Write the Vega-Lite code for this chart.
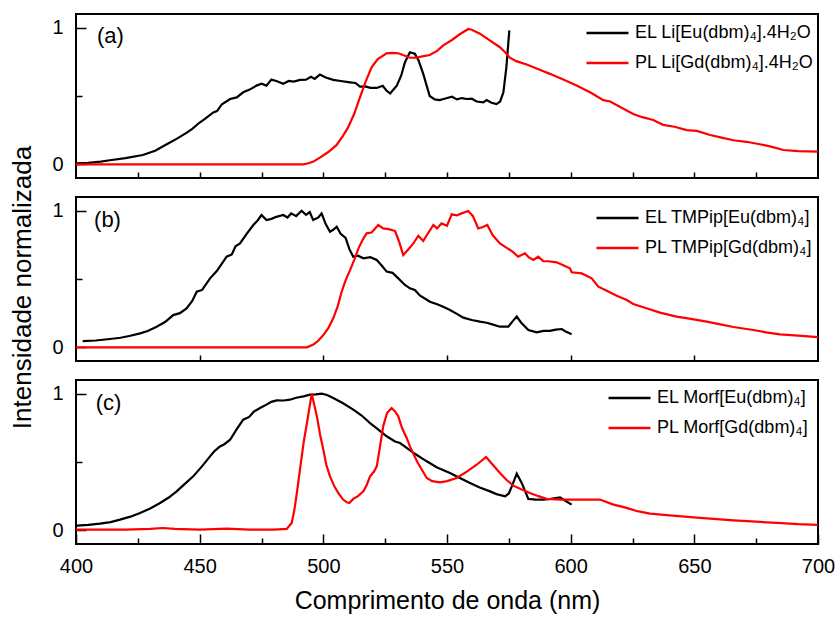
{
  "$schema": "https://vega.github.io/schema/vega-lite/v6.json",
  "padding": {"left": 8, "top": 13, "right": 5, "bottom": 5},
  "config": {
    "font": "Liberation Sans",
    "view": {"stroke": "#000000", "strokeWidth": 2},
    "axis": {"domain": false, "grid": false, "tickColor": "#000000", "tickWidth": 1.5, "labelColor": "#000000", "titleColor": "#000000", "labelFont": "Liberation Sans", "titleFont": "Liberation Sans", "titleFontWeight": "normal", "labelFlush": false},
    "legend": {"labelFont": "Liberation Sans", "labelColor": "#000000", "labelLimit": 400}
  },
  "datasets": {
    "a": [
      {"x":400.3,"y":0.007,"s":"EL Li[Eu(dbm)₄].4H₂O"},{"x":405,"y":0.01,"s":"EL Li[Eu(dbm)₄].4H₂O"},{"x":410,"y":0.02,"s":"EL Li[Eu(dbm)₄].4H₂O"},{"x":413.7,"y":0.03,"s":"EL Li[Eu(dbm)₄].4H₂O"},{"x":420,"y":0.045,"s":"EL Li[Eu(dbm)₄].4H₂O"},{"x":427,"y":0.068,"s":"EL Li[Eu(dbm)₄].4H₂O"},{"x":432,"y":0.1,"s":"EL Li[Eu(dbm)₄].4H₂O"},{"x":436.7,"y":0.147,"s":"EL Li[Eu(dbm)₄].4H₂O"},{"x":441,"y":0.19,"s":"EL Li[Eu(dbm)₄].4H₂O"},{"x":444.8,"y":0.232,"s":"EL Li[Eu(dbm)₄].4H₂O"},{"x":447,"y":0.26,"s":"EL Li[Eu(dbm)₄].4H₂O"},{"x":450,"y":0.306,"s":"EL Li[Eu(dbm)₄].4H₂O"},{"x":452,"y":0.33,"s":"EL Li[Eu(dbm)₄].4H₂O"},{"x":455.5,"y":0.38,"s":"EL Li[Eu(dbm)₄].4H₂O"},{"x":457,"y":0.39,"s":"EL Li[Eu(dbm)₄].4H₂O"},{"x":459,"y":0.44,"s":"EL Li[Eu(dbm)₄].4H₂O"},{"x":462.3,"y":0.478,"s":"EL Li[Eu(dbm)₄].4H₂O"},{"x":465,"y":0.49,"s":"EL Li[Eu(dbm)₄].4H₂O"},{"x":467.6,"y":0.527,"s":"EL Li[Eu(dbm)₄].4H₂O"},{"x":470,"y":0.545,"s":"EL Li[Eu(dbm)₄].4H₂O"},{"x":473,"y":0.576,"s":"EL Li[Eu(dbm)₄].4H₂O"},{"x":475,"y":0.59,"s":"EL Li[Eu(dbm)₄].4H₂O"},{"x":477,"y":0.576,"s":"EL Li[Eu(dbm)₄].4H₂O"},{"x":479,"y":0.62,"s":"EL Li[Eu(dbm)₄].4H₂O"},{"x":481,"y":0.61,"s":"EL Li[Eu(dbm)₄].4H₂O"},{"x":483.8,"y":0.59,"s":"EL Li[Eu(dbm)₄].4H₂O"},{"x":486,"y":0.61,"s":"EL Li[Eu(dbm)₄].4H₂O"},{"x":488,"y":0.605,"s":"EL Li[Eu(dbm)₄].4H₂O"},{"x":490.6,"y":0.618,"s":"EL Li[Eu(dbm)₄].4H₂O"},{"x":493,"y":0.62,"s":"EL Li[Eu(dbm)₄].4H₂O"},{"x":495,"y":0.64,"s":"EL Li[Eu(dbm)₄].4H₂O"},{"x":496.5,"y":0.625,"s":"EL Li[Eu(dbm)₄].4H₂O"},{"x":498.6,"y":0.657,"s":"EL Li[Eu(dbm)₄].4H₂O"},{"x":501,"y":0.635,"s":"EL Li[Eu(dbm)₄].4H₂O"},{"x":504,"y":0.618,"s":"EL Li[Eu(dbm)₄].4H₂O"},{"x":507,"y":0.61,"s":"EL Li[Eu(dbm)₄].4H₂O"},{"x":510.8,"y":0.6,"s":"EL Li[Eu(dbm)₄].4H₂O"},{"x":513,"y":0.595,"s":"EL Li[Eu(dbm)₄].4H₂O"},{"x":514.8,"y":0.568,"s":"EL Li[Eu(dbm)₄].4H₂O"},{"x":517,"y":0.57,"s":"EL Li[Eu(dbm)₄].4H₂O"},{"x":519,"y":0.56,"s":"EL Li[Eu(dbm)₄].4H₂O"},{"x":521.6,"y":0.559,"s":"EL Li[Eu(dbm)₄].4H₂O"},{"x":524,"y":0.575,"s":"EL Li[Eu(dbm)₄].4H₂O"},{"x":525.5,"y":0.54,"s":"EL Li[Eu(dbm)₄].4H₂O"},{"x":527,"y":0.519,"s":"EL Li[Eu(dbm)₄].4H₂O"},{"x":529.7,"y":0.576,"s":"EL Li[Eu(dbm)₄].4H₂O"},{"x":531.5,"y":0.65,"s":"EL Li[Eu(dbm)₄].4H₂O"},{"x":533,"y":0.747,"s":"EL Li[Eu(dbm)₄].4H₂O"},{"x":535,"y":0.82,"s":"EL Li[Eu(dbm)₄].4H₂O"},{"x":537,"y":0.81,"s":"EL Li[Eu(dbm)₄].4H₂O"},{"x":538.5,"y":0.76,"s":"EL Li[Eu(dbm)₄].4H₂O"},{"x":540.4,"y":0.662,"s":"EL Li[Eu(dbm)₄].4H₂O"},{"x":543,"y":0.5,"s":"EL Li[Eu(dbm)₄].4H₂O"},{"x":545,"y":0.475,"s":"EL Li[Eu(dbm)₄].4H₂O"},{"x":547,"y":0.47,"s":"EL Li[Eu(dbm)₄].4H₂O"},{"x":549,"y":0.48,"s":"EL Li[Eu(dbm)₄].4H₂O"},{"x":552,"y":0.495,"s":"EL Li[Eu(dbm)₄].4H₂O"},{"x":554,"y":0.475,"s":"EL Li[Eu(dbm)₄].4H₂O"},{"x":556,"y":0.485,"s":"EL Li[Eu(dbm)₄].4H₂O"},{"x":558,"y":0.478,"s":"EL Li[Eu(dbm)₄].4H₂O"},{"x":560,"y":0.48,"s":"EL Li[Eu(dbm)₄].4H₂O"},{"x":562,"y":0.46,"s":"EL Li[Eu(dbm)₄].4H₂O"},{"x":564.7,"y":0.453,"s":"EL Li[Eu(dbm)₄].4H₂O"},{"x":566,"y":0.47,"s":"EL Li[Eu(dbm)₄].4H₂O"},{"x":568,"y":0.45,"s":"EL Li[Eu(dbm)₄].4H₂O"},{"x":570,"y":0.441,"s":"EL Li[Eu(dbm)₄].4H₂O"},{"x":571.5,"y":0.46,"s":"EL Li[Eu(dbm)₄].4H₂O"},{"x":572.8,"y":0.527,"s":"EL Li[Eu(dbm)₄].4H₂O"},{"x":574,"y":0.71,"s":"EL Li[Eu(dbm)₄].4H₂O"},{"x":575.2,"y":0.98,"s":"EL Li[Eu(dbm)₄].4H₂O"},
      {"x":400,"y":0,"s":"PL Li[Gd(dbm)₄].4H₂O"},{"x":450,"y":0,"s":"PL Li[Gd(dbm)₄].4H₂O"},{"x":491.9,"y":0,"s":"PL Li[Gd(dbm)₄].4H₂O"},{"x":494,"y":0.008,"s":"PL Li[Gd(dbm)₄].4H₂O"},{"x":496,"y":0.02,"s":"PL Li[Gd(dbm)₄].4H₂O"},{"x":498.6,"y":0.049,"s":"PL Li[Gd(dbm)₄].4H₂O"},{"x":502,"y":0.09,"s":"PL Li[Gd(dbm)₄].4H₂O"},{"x":505.4,"y":0.142,"s":"PL Li[Gd(dbm)₄].4H₂O"},{"x":508,"y":0.21,"s":"PL Li[Gd(dbm)₄].4H₂O"},{"x":510,"y":0.27,"s":"PL Li[Gd(dbm)₄].4H₂O"},{"x":512.5,"y":0.37,"s":"PL Li[Gd(dbm)₄].4H₂O"},{"x":514.8,"y":0.49,"s":"PL Li[Gd(dbm)₄].4H₂O"},{"x":517,"y":0.6,"s":"PL Li[Gd(dbm)₄].4H₂O"},{"x":519.5,"y":0.71,"s":"PL Li[Gd(dbm)₄].4H₂O"},{"x":522,"y":0.77,"s":"PL Li[Gd(dbm)₄].4H₂O"},{"x":525.6,"y":0.813,"s":"PL Li[Gd(dbm)₄].4H₂O"},{"x":528,"y":0.816,"s":"PL Li[Gd(dbm)₄].4H₂O"},{"x":530.3,"y":0.813,"s":"PL Li[Gd(dbm)₄].4H₂O"},{"x":533,"y":0.795,"s":"PL Li[Gd(dbm)₄].4H₂O"},{"x":535,"y":0.78,"s":"PL Li[Gd(dbm)₄].4H₂O"},{"x":537.7,"y":0.78,"s":"PL Li[Gd(dbm)₄].4H₂O"},{"x":540,"y":0.79,"s":"PL Li[Gd(dbm)₄].4H₂O"},{"x":543,"y":0.8,"s":"PL Li[Gd(dbm)₄].4H₂O"},{"x":546,"y":0.83,"s":"PL Li[Gd(dbm)₄].4H₂O"},{"x":548.5,"y":0.87,"s":"PL Li[Gd(dbm)₄].4H₂O"},{"x":552,"y":0.91,"s":"PL Li[Gd(dbm)₄].4H₂O"},{"x":555,"y":0.95,"s":"PL Li[Gd(dbm)₄].4H₂O"},{"x":558.6,"y":0.99,"s":"PL Li[Gd(dbm)₄].4H₂O"},{"x":560,"y":0.985,"s":"PL Li[Gd(dbm)₄].4H₂O"},{"x":563.3,"y":0.956,"s":"PL Li[Gd(dbm)₄].4H₂O"},{"x":567,"y":0.91,"s":"PL Li[Gd(dbm)₄].4H₂O"},{"x":571.4,"y":0.857,"s":"PL Li[Gd(dbm)₄].4H₂O"},{"x":573.5,"y":0.82,"s":"PL Li[Gd(dbm)₄].4H₂O"},{"x":575.4,"y":0.78,"s":"PL Li[Gd(dbm)₄].4H₂O"},{"x":578,"y":0.755,"s":"PL Li[Gd(dbm)₄].4H₂O"},{"x":582.2,"y":0.73,"s":"PL Li[Gd(dbm)₄].4H₂O"},{"x":587,"y":0.695,"s":"PL Li[Gd(dbm)₄].4H₂O"},{"x":591.6,"y":0.662,"s":"PL Li[Gd(dbm)₄].4H₂O"},{"x":597,"y":0.62,"s":"PL Li[Gd(dbm)₄].4H₂O"},{"x":602.4,"y":0.576,"s":"PL Li[Gd(dbm)₄].4H₂O"},{"x":608,"y":0.525,"s":"PL Li[Gd(dbm)₄].4H₂O"},{"x":613.2,"y":0.47,"s":"PL Li[Gd(dbm)₄].4H₂O"},{"x":616,"y":0.46,"s":"PL Li[Gd(dbm)₄].4H₂O"},{"x":620,"y":0.42,"s":"PL Li[Gd(dbm)₄].4H₂O"},{"x":625.3,"y":0.368,"s":"PL Li[Gd(dbm)₄].4H₂O"},{"x":629,"y":0.345,"s":"PL Li[Gd(dbm)₄].4H₂O"},{"x":633.4,"y":0.324,"s":"PL Li[Gd(dbm)₄].4H₂O"},{"x":635,"y":0.31,"s":"PL Li[Gd(dbm)₄].4H₂O"},{"x":637.4,"y":0.289,"s":"PL Li[Gd(dbm)₄].4H₂O"},{"x":642,"y":0.275,"s":"PL Li[Gd(dbm)₄].4H₂O"},{"x":646.9,"y":0.25,"s":"PL Li[Gd(dbm)₄].4H₂O"},{"x":651,"y":0.245,"s":"PL Li[Gd(dbm)₄].4H₂O"},{"x":656.4,"y":0.215,"s":"PL Li[Gd(dbm)₄].4H₂O"},{"x":661,"y":0.195,"s":"PL Li[Gd(dbm)₄].4H₂O"},{"x":665.8,"y":0.176,"s":"PL Li[Gd(dbm)₄].4H₂O"},{"x":671,"y":0.165,"s":"PL Li[Gd(dbm)₄].4H₂O"},{"x":676.5,"y":0.147,"s":"PL Li[Gd(dbm)₄].4H₂O"},{"x":681,"y":0.13,"s":"PL Li[Gd(dbm)₄].4H₂O"},{"x":686,"y":0.105,"s":"PL Li[Gd(dbm)₄].4H₂O"},{"x":692,"y":0.096,"s":"PL Li[Gd(dbm)₄].4H₂O"},{"x":700,"y":0.093,"s":"PL Li[Gd(dbm)₄].4H₂O"}
    ],
    "b": [
      {"x":402.7,"y":0.046,"s":"EL TMPip[Eu(dbm)₄]"},{"x":408,"y":0.05,"s":"EL TMPip[Eu(dbm)₄]"},{"x":413.7,"y":0.061,"s":"EL TMPip[Eu(dbm)₄]"},{"x":418,"y":0.07,"s":"EL TMPip[Eu(dbm)₄]"},{"x":422,"y":0.085,"s":"EL TMPip[Eu(dbm)₄]"},{"x":425.9,"y":0.102,"s":"EL TMPip[Eu(dbm)₄]"},{"x":429,"y":0.12,"s":"EL TMPip[Eu(dbm)₄]"},{"x":432.6,"y":0.151,"s":"EL TMPip[Eu(dbm)₄]"},{"x":436,"y":0.185,"s":"EL TMPip[Eu(dbm)₄]"},{"x":439.3,"y":0.236,"s":"EL TMPip[Eu(dbm)₄]"},{"x":442,"y":0.25,"s":"EL TMPip[Eu(dbm)₄]"},{"x":444.7,"y":0.285,"s":"EL TMPip[Eu(dbm)₄]"},{"x":447,"y":0.34,"s":"EL TMPip[Eu(dbm)₄]"},{"x":448.8,"y":0.407,"s":"EL TMPip[Eu(dbm)₄]"},{"x":451,"y":0.42,"s":"EL TMPip[Eu(dbm)₄]"},{"x":454.2,"y":0.505,"s":"EL TMPip[Eu(dbm)₄]"},{"x":457,"y":0.56,"s":"EL TMPip[Eu(dbm)₄]"},{"x":460.9,"y":0.663,"s":"EL TMPip[Eu(dbm)₄]"},{"x":463,"y":0.68,"s":"EL TMPip[Eu(dbm)₄]"},{"x":464.5,"y":0.74,"s":"EL TMPip[Eu(dbm)₄]"},{"x":466.3,"y":0.76,"s":"EL TMPip[Eu(dbm)₄]"},{"x":469,"y":0.83,"s":"EL TMPip[Eu(dbm)₄]"},{"x":471.7,"y":0.895,"s":"EL TMPip[Eu(dbm)₄]"},{"x":473.5,"y":0.93,"s":"EL TMPip[Eu(dbm)₄]"},{"x":475,"y":0.968,"s":"EL TMPip[Eu(dbm)₄]"},{"x":477,"y":0.931,"s":"EL TMPip[Eu(dbm)₄]"},{"x":479,"y":0.94,"s":"EL TMPip[Eu(dbm)₄]"},{"x":481,"y":0.955,"s":"EL TMPip[Eu(dbm)₄]"},{"x":483.8,"y":0.968,"s":"EL TMPip[Eu(dbm)₄]"},{"x":485.5,"y":0.95,"s":"EL TMPip[Eu(dbm)₄]"},{"x":487,"y":0.98,"s":"EL TMPip[Eu(dbm)₄]"},{"x":489,"y":0.96,"s":"EL TMPip[Eu(dbm)₄]"},{"x":491.2,"y":1.0,"s":"EL TMPip[Eu(dbm)₄]"},{"x":493,"y":0.97,"s":"EL TMPip[Eu(dbm)₄]"},{"x":494.5,"y":0.99,"s":"EL TMPip[Eu(dbm)₄]"},{"x":495.9,"y":0.931,"s":"EL TMPip[Eu(dbm)₄]"},{"x":498,"y":0.95,"s":"EL TMPip[Eu(dbm)₄]"},{"x":499.3,"y":0.98,"s":"EL TMPip[Eu(dbm)₄]"},{"x":501,"y":0.9,"s":"EL TMPip[Eu(dbm)₄]"},{"x":502.7,"y":0.846,"s":"EL TMPip[Eu(dbm)₄]"},{"x":504,"y":0.86,"s":"EL TMPip[Eu(dbm)₄]"},{"x":505.4,"y":0.883,"s":"EL TMPip[Eu(dbm)₄]"},{"x":507,"y":0.83,"s":"EL TMPip[Eu(dbm)₄]"},{"x":509,"y":0.8,"s":"EL TMPip[Eu(dbm)₄]"},{"x":510.5,"y":0.72,"s":"EL TMPip[Eu(dbm)₄]"},{"x":512.1,"y":0.663,"s":"EL TMPip[Eu(dbm)₄]"},{"x":514,"y":0.67,"s":"EL TMPip[Eu(dbm)₄]"},{"x":516.2,"y":0.651,"s":"EL TMPip[Eu(dbm)₄]"},{"x":519,"y":0.66,"s":"EL TMPip[Eu(dbm)₄]"},{"x":521.6,"y":0.639,"s":"EL TMPip[Eu(dbm)₄]"},{"x":523.5,"y":0.6,"s":"EL TMPip[Eu(dbm)₄]"},{"x":525.6,"y":0.554,"s":"EL TMPip[Eu(dbm)₄]"},{"x":528,"y":0.545,"s":"EL TMPip[Eu(dbm)₄]"},{"x":530,"y":0.51,"s":"EL TMPip[Eu(dbm)₄]"},{"x":533,"y":0.456,"s":"EL TMPip[Eu(dbm)₄]"},{"x":535,"y":0.432,"s":"EL TMPip[Eu(dbm)₄]"},{"x":537,"y":0.42,"s":"EL TMPip[Eu(dbm)₄]"},{"x":539,"y":0.38,"s":"EL TMPip[Eu(dbm)₄]"},{"x":543.1,"y":0.334,"s":"EL TMPip[Eu(dbm)₄]"},{"x":546,"y":0.315,"s":"EL TMPip[Eu(dbm)₄]"},{"x":548,"y":0.3,"s":"EL TMPip[Eu(dbm)₄]"},{"x":551.2,"y":0.273,"s":"EL TMPip[Eu(dbm)₄]"},{"x":554,"y":0.245,"s":"EL TMPip[Eu(dbm)₄]"},{"x":556.6,"y":0.217,"s":"EL TMPip[Eu(dbm)₄]"},{"x":560,"y":0.2,"s":"EL TMPip[Eu(dbm)₄]"},{"x":563.3,"y":0.188,"s":"EL TMPip[Eu(dbm)₄]"},{"x":566,"y":0.18,"s":"EL TMPip[Eu(dbm)₄]"},{"x":568,"y":0.17,"s":"EL TMPip[Eu(dbm)₄]"},{"x":571.4,"y":0.151,"s":"EL TMPip[Eu(dbm)₄]"},{"x":574.8,"y":0.151,"s":"EL TMPip[Eu(dbm)₄]"},{"x":576.5,"y":0.19,"s":"EL TMPip[Eu(dbm)₄]"},{"x":578.2,"y":0.225,"s":"EL TMPip[Eu(dbm)₄]"},{"x":580,"y":0.18,"s":"EL TMPip[Eu(dbm)₄]"},{"x":582.9,"y":0.127,"s":"EL TMPip[Eu(dbm)₄]"},{"x":586.3,"y":0.11,"s":"EL TMPip[Eu(dbm)₄]"},{"x":589,"y":0.12,"s":"EL TMPip[Eu(dbm)₄]"},{"x":591.6,"y":0.12,"s":"EL TMPip[Eu(dbm)₄]"},{"x":594,"y":0.13,"s":"EL TMPip[Eu(dbm)₄]"},{"x":596.4,"y":0.134,"s":"EL TMPip[Eu(dbm)₄]"},{"x":598,"y":0.115,"s":"EL TMPip[Eu(dbm)₄]"},{"x":600.4,"y":0.095,"s":"EL TMPip[Eu(dbm)₄]"},
      {"x":400,"y":0,"s":"PL TMPip[Gd(dbm)₄]"},{"x":450,"y":0,"s":"PL TMPip[Gd(dbm)₄]"},{"x":493.3,"y":0,"s":"PL TMPip[Gd(dbm)₄]"},{"x":496,"y":0.02,"s":"PL TMPip[Gd(dbm)₄]"},{"x":498,"y":0.05,"s":"PL TMPip[Gd(dbm)₄]"},{"x":500,"y":0.09,"s":"PL TMPip[Gd(dbm)₄]"},{"x":502,"y":0.14,"s":"PL TMPip[Gd(dbm)₄]"},{"x":504,"y":0.212,"s":"PL TMPip[Gd(dbm)₄]"},{"x":505.8,"y":0.3,"s":"PL TMPip[Gd(dbm)₄]"},{"x":507.4,"y":0.407,"s":"PL TMPip[Gd(dbm)₄]"},{"x":509,"y":0.49,"s":"PL TMPip[Gd(dbm)₄]"},{"x":510.8,"y":0.565,"s":"PL TMPip[Gd(dbm)₄]"},{"x":512.5,"y":0.64,"s":"PL TMPip[Gd(dbm)₄]"},{"x":514.2,"y":0.724,"s":"PL TMPip[Gd(dbm)₄]"},{"x":516,"y":0.79,"s":"PL TMPip[Gd(dbm)₄]"},{"x":517.5,"y":0.834,"s":"PL TMPip[Gd(dbm)₄]"},{"x":519.5,"y":0.84,"s":"PL TMPip[Gd(dbm)₄]"},{"x":522.2,"y":0.895,"s":"PL TMPip[Gd(dbm)₄]"},{"x":524.2,"y":0.87,"s":"PL TMPip[Gd(dbm)₄]"},{"x":526.5,"y":0.865,"s":"PL TMPip[Gd(dbm)₄]"},{"x":529,"y":0.851,"s":"PL TMPip[Gd(dbm)₄]"},{"x":530.5,"y":0.78,"s":"PL TMPip[Gd(dbm)₄]"},{"x":532.3,"y":0.675,"s":"PL TMPip[Gd(dbm)₄]"},{"x":534.5,"y":0.72,"s":"PL TMPip[Gd(dbm)₄]"},{"x":536.4,"y":0.76,"s":"PL TMPip[Gd(dbm)₄]"},{"x":538.4,"y":0.817,"s":"PL TMPip[Gd(dbm)₄]"},{"x":540.4,"y":0.778,"s":"PL TMPip[Gd(dbm)₄]"},{"x":542.5,"y":0.84,"s":"PL TMPip[Gd(dbm)₄]"},{"x":544.5,"y":0.895,"s":"PL TMPip[Gd(dbm)₄]"},{"x":546,"y":0.87,"s":"PL TMPip[Gd(dbm)₄]"},{"x":547.8,"y":0.907,"s":"PL TMPip[Gd(dbm)₄]"},{"x":550,"y":0.89,"s":"PL TMPip[Gd(dbm)₄]"},{"x":551.9,"y":0.973,"s":"PL TMPip[Gd(dbm)₄]"},{"x":554,"y":0.965,"s":"PL TMPip[Gd(dbm)₄]"},{"x":555.9,"y":0.98,"s":"PL TMPip[Gd(dbm)₄]"},{"x":558.6,"y":0.997,"s":"PL TMPip[Gd(dbm)₄]"},{"x":560.5,"y":0.96,"s":"PL TMPip[Gd(dbm)₄]"},{"x":562.6,"y":0.87,"s":"PL TMPip[Gd(dbm)₄]"},{"x":564.5,"y":0.88,"s":"PL TMPip[Gd(dbm)₄]"},{"x":566.3,"y":0.895,"s":"PL TMPip[Gd(dbm)₄]"},{"x":568.5,"y":0.82,"s":"PL TMPip[Gd(dbm)₄]"},{"x":571.4,"y":0.76,"s":"PL TMPip[Gd(dbm)₄]"},{"x":574,"y":0.73,"s":"PL TMPip[Gd(dbm)₄]"},{"x":576.5,"y":0.7,"s":"PL TMPip[Gd(dbm)₄]"},{"x":578.8,"y":0.663,"s":"PL TMPip[Gd(dbm)₄]"},{"x":581.5,"y":0.688,"s":"PL TMPip[Gd(dbm)₄]"},{"x":583,"y":0.66,"s":"PL TMPip[Gd(dbm)₄]"},{"x":584.9,"y":0.639,"s":"PL TMPip[Gd(dbm)₄]"},{"x":586.9,"y":0.663,"s":"PL TMPip[Gd(dbm)₄]"},{"x":588.9,"y":0.631,"s":"PL TMPip[Gd(dbm)₄]"},{"x":591,"y":0.63,"s":"PL TMPip[Gd(dbm)₄]"},{"x":594.3,"y":0.622,"s":"PL TMPip[Gd(dbm)₄]"},{"x":597,"y":0.6,"s":"PL TMPip[Gd(dbm)₄]"},{"x":599.7,"y":0.578,"s":"PL TMPip[Gd(dbm)₄]"},{"x":600.4,"y":0.549,"s":"PL TMPip[Gd(dbm)₄]"},{"x":604.5,"y":0.541,"s":"PL TMPip[Gd(dbm)₄]"},{"x":608.5,"y":0.505,"s":"PL TMPip[Gd(dbm)₄]"},{"x":611.2,"y":0.444,"s":"PL TMPip[Gd(dbm)₄]"},{"x":615,"y":0.41,"s":"PL TMPip[Gd(dbm)₄]"},{"x":618.6,"y":0.378,"s":"PL TMPip[Gd(dbm)₄]"},{"x":622.7,"y":0.346,"s":"PL TMPip[Gd(dbm)₄]"},{"x":625.3,"y":0.317,"s":"PL TMPip[Gd(dbm)₄]"},{"x":630,"y":0.29,"s":"PL TMPip[Gd(dbm)₄]"},{"x":636.1,"y":0.254,"s":"PL TMPip[Gd(dbm)₄]"},{"x":642.8,"y":0.225,"s":"PL TMPip[Gd(dbm)₄]"},{"x":648,"y":0.21,"s":"PL TMPip[Gd(dbm)₄]"},{"x":655,"y":0.188,"s":"PL TMPip[Gd(dbm)₄]"},{"x":660,"y":0.17,"s":"PL TMPip[Gd(dbm)₄]"},{"x":665.8,"y":0.149,"s":"PL TMPip[Gd(dbm)₄]"},{"x":673.8,"y":0.127,"s":"PL TMPip[Gd(dbm)₄]"},{"x":679,"y":0.11,"s":"PL TMPip[Gd(dbm)₄]"},{"x":684.6,"y":0.095,"s":"PL TMPip[Gd(dbm)₄]"},{"x":692,"y":0.085,"s":"PL TMPip[Gd(dbm)₄]"},{"x":700,"y":0.075,"s":"PL TMPip[Gd(dbm)₄]"}
    ],
    "c": [
      {"x":400.3,"y":0.034,"s":"EL Morf[Eu(dbm)₄]"},{"x":405,"y":0.04,"s":"EL Morf[Eu(dbm)₄]"},{"x":409.7,"y":0.049,"s":"EL Morf[Eu(dbm)₄]"},{"x":414,"y":0.06,"s":"EL Morf[Eu(dbm)₄]"},{"x":417.8,"y":0.078,"s":"EL Morf[Eu(dbm)₄]"},{"x":422,"y":0.1,"s":"EL Morf[Eu(dbm)₄]"},{"x":425.9,"y":0.127,"s":"EL Morf[Eu(dbm)₄]"},{"x":430,"y":0.16,"s":"EL Morf[Eu(dbm)₄]"},{"x":434,"y":0.2,"s":"EL Morf[Eu(dbm)₄]"},{"x":437.5,"y":0.24,"s":"EL Morf[Eu(dbm)₄]"},{"x":440.7,"y":0.285,"s":"EL Morf[Eu(dbm)₄]"},{"x":444,"y":0.34,"s":"EL Morf[Eu(dbm)₄]"},{"x":447.4,"y":0.395,"s":"EL Morf[Eu(dbm)₄]"},{"x":451,"y":0.47,"s":"EL Morf[Eu(dbm)₄]"},{"x":454.2,"y":0.541,"s":"EL Morf[Eu(dbm)₄]"},{"x":456,"y":0.58,"s":"EL Morf[Eu(dbm)₄]"},{"x":458.2,"y":0.614,"s":"EL Morf[Eu(dbm)₄]"},{"x":460,"y":0.63,"s":"EL Morf[Eu(dbm)₄]"},{"x":462.3,"y":0.663,"s":"EL Morf[Eu(dbm)₄]"},{"x":465,"y":0.74,"s":"EL Morf[Eu(dbm)₄]"},{"x":467.6,"y":0.81,"s":"EL Morf[Eu(dbm)₄]"},{"x":470,"y":0.83,"s":"EL Morf[Eu(dbm)₄]"},{"x":472,"y":0.87,"s":"EL Morf[Eu(dbm)₄]"},{"x":474.4,"y":0.895,"s":"EL Morf[Eu(dbm)₄]"},{"x":477,"y":0.92,"s":"EL Morf[Eu(dbm)₄]"},{"x":479,"y":0.94,"s":"EL Morf[Eu(dbm)₄]"},{"x":481.1,"y":0.951,"s":"EL Morf[Eu(dbm)₄]"},{"x":484,"y":0.95,"s":"EL Morf[Eu(dbm)₄]"},{"x":486.5,"y":0.956,"s":"EL Morf[Eu(dbm)₄]"},{"x":489,"y":0.97,"s":"EL Morf[Eu(dbm)₄]"},{"x":492,"y":0.98,"s":"EL Morf[Eu(dbm)₄]"},{"x":494.6,"y":0.993,"s":"EL Morf[Eu(dbm)₄]"},{"x":497,"y":0.995,"s":"EL Morf[Eu(dbm)₄]"},{"x":499.3,"y":1.0,"s":"EL Morf[Eu(dbm)₄]"},{"x":501.5,"y":0.99,"s":"EL Morf[Eu(dbm)₄]"},{"x":504,"y":0.968,"s":"EL Morf[Eu(dbm)₄]"},{"x":508,"y":0.93,"s":"EL Morf[Eu(dbm)₄]"},{"x":512.1,"y":0.883,"s":"EL Morf[Eu(dbm)₄]"},{"x":515.5,"y":0.84,"s":"EL Morf[Eu(dbm)₄]"},{"x":518.9,"y":0.785,"s":"EL Morf[Eu(dbm)₄]"},{"x":522,"y":0.74,"s":"EL Morf[Eu(dbm)₄]"},{"x":525.6,"y":0.688,"s":"EL Morf[Eu(dbm)₄]"},{"x":529,"y":0.65,"s":"EL Morf[Eu(dbm)₄]"},{"x":531,"y":0.639,"s":"EL Morf[Eu(dbm)₄]"},{"x":533.7,"y":0.603,"s":"EL Morf[Eu(dbm)₄]"},{"x":537,"y":0.56,"s":"EL Morf[Eu(dbm)₄]"},{"x":541.8,"y":0.505,"s":"EL Morf[Eu(dbm)₄]"},{"x":546,"y":0.46,"s":"EL Morf[Eu(dbm)₄]"},{"x":551.2,"y":0.42,"s":"EL Morf[Eu(dbm)₄]"},{"x":555,"y":0.385,"s":"EL Morf[Eu(dbm)₄]"},{"x":559.3,"y":0.347,"s":"EL Morf[Eu(dbm)₄]"},{"x":563,"y":0.315,"s":"EL Morf[Eu(dbm)₄]"},{"x":567.4,"y":0.285,"s":"EL Morf[Eu(dbm)₄]"},{"x":570,"y":0.265,"s":"EL Morf[Eu(dbm)₄]"},{"x":573.5,"y":0.249,"s":"EL Morf[Eu(dbm)₄]"},{"x":575,"y":0.27,"s":"EL Morf[Eu(dbm)₄]"},{"x":576.2,"y":0.322,"s":"EL Morf[Eu(dbm)₄]"},{"x":578.2,"y":0.415,"s":"EL Morf[Eu(dbm)₄]"},{"x":580.2,"y":0.347,"s":"EL Morf[Eu(dbm)₄]"},{"x":582.9,"y":0.23,"s":"EL Morf[Eu(dbm)₄]"},{"x":586,"y":0.225,"s":"EL Morf[Eu(dbm)₄]"},{"x":589,"y":0.225,"s":"EL Morf[Eu(dbm)₄]"},{"x":592,"y":0.23,"s":"EL Morf[Eu(dbm)₄]"},{"x":595.7,"y":0.241,"s":"EL Morf[Eu(dbm)₄]"},{"x":598,"y":0.215,"s":"EL Morf[Eu(dbm)₄]"},{"x":600.4,"y":0.188,"s":"EL Morf[Eu(dbm)₄]"},
      {"x":400,"y":0.005,"s":"PL Morf[Gd(dbm)₄]"},{"x":420,"y":0.005,"s":"PL Morf[Gd(dbm)₄]"},{"x":430,"y":0.01,"s":"PL Morf[Gd(dbm)₄]"},{"x":435,"y":0.017,"s":"PL Morf[Gd(dbm)₄]"},{"x":440,"y":0.01,"s":"PL Morf[Gd(dbm)₄]"},{"x":450,"y":0.005,"s":"PL Morf[Gd(dbm)₄]"},{"x":461,"y":0.012,"s":"PL Morf[Gd(dbm)₄]"},{"x":470,"y":0.005,"s":"PL Morf[Gd(dbm)₄]"},{"x":480,"y":0.005,"s":"PL Morf[Gd(dbm)₄]"},{"x":485.2,"y":0.01,"s":"PL Morf[Gd(dbm)₄]"},{"x":487.2,"y":0.054,"s":"PL Morf[Gd(dbm)₄]"},{"x":488.3,"y":0.15,"s":"PL Morf[Gd(dbm)₄]"},{"x":489.3,"y":0.273,"s":"PL Morf[Gd(dbm)₄]"},{"x":490.6,"y":0.45,"s":"PL Morf[Gd(dbm)₄]"},{"x":492,"y":0.639,"s":"PL Morf[Gd(dbm)₄]"},{"x":493.7,"y":0.82,"s":"PL Morf[Gd(dbm)₄]"},{"x":495.3,"y":1.0,"s":"PL Morf[Gd(dbm)₄]"},{"x":497.4,"y":0.834,"s":"PL Morf[Gd(dbm)₄]"},{"x":498.7,"y":0.7,"s":"PL Morf[Gd(dbm)₄]"},{"x":500,"y":0.59,"s":"PL Morf[Gd(dbm)₄]"},{"x":501.2,"y":0.48,"s":"PL Morf[Gd(dbm)₄]"},{"x":502.7,"y":0.395,"s":"PL Morf[Gd(dbm)₄]"},{"x":504.5,"y":0.32,"s":"PL Morf[Gd(dbm)₄]"},{"x":506.1,"y":0.273,"s":"PL Morf[Gd(dbm)₄]"},{"x":508,"y":0.225,"s":"PL Morf[Gd(dbm)₄]"},{"x":509.5,"y":0.205,"s":"PL Morf[Gd(dbm)₄]"},{"x":510.5,"y":0.2,"s":"PL Morf[Gd(dbm)₄]"},{"x":512.1,"y":0.23,"s":"PL Morf[Gd(dbm)₄]"},{"x":514,"y":0.25,"s":"PL Morf[Gd(dbm)₄]"},{"x":516.2,"y":0.285,"s":"PL Morf[Gd(dbm)₄]"},{"x":517.5,"y":0.33,"s":"PL Morf[Gd(dbm)₄]"},{"x":518.9,"y":0.395,"s":"PL Morf[Gd(dbm)₄]"},{"x":520.5,"y":0.43,"s":"PL Morf[Gd(dbm)₄]"},{"x":521.6,"y":0.468,"s":"PL Morf[Gd(dbm)₄]"},{"x":522.8,"y":0.6,"s":"PL Morf[Gd(dbm)₄]"},{"x":524.2,"y":0.761,"s":"PL Morf[Gd(dbm)₄]"},{"x":525.8,"y":0.86,"s":"PL Morf[Gd(dbm)₄]"},{"x":527.6,"y":0.895,"s":"PL Morf[Gd(dbm)₄]"},{"x":529,"y":0.87,"s":"PL Morf[Gd(dbm)₄]"},{"x":530.3,"y":0.834,"s":"PL Morf[Gd(dbm)₄]"},{"x":531.8,"y":0.75,"s":"PL Morf[Gd(dbm)₄]"},{"x":533.7,"y":0.676,"s":"PL Morf[Gd(dbm)₄]"},{"x":535,"y":0.614,"s":"PL Morf[Gd(dbm)₄]"},{"x":538,"y":0.5,"s":"PL Morf[Gd(dbm)₄]"},{"x":541.8,"y":0.383,"s":"PL Morf[Gd(dbm)₄]"},{"x":544,"y":0.36,"s":"PL Morf[Gd(dbm)₄]"},{"x":547.2,"y":0.351,"s":"PL Morf[Gd(dbm)₄]"},{"x":550,"y":0.36,"s":"PL Morf[Gd(dbm)₄]"},{"x":553.9,"y":0.383,"s":"PL Morf[Gd(dbm)₄]"},{"x":558,"y":0.43,"s":"PL Morf[Gd(dbm)₄]"},{"x":562,"y":0.48,"s":"PL Morf[Gd(dbm)₄]"},{"x":565.8,"y":0.537,"s":"PL Morf[Gd(dbm)₄]"},{"x":568.5,"y":0.48,"s":"PL Morf[Gd(dbm)₄]"},{"x":571.4,"y":0.42,"s":"PL Morf[Gd(dbm)₄]"},{"x":574,"y":0.37,"s":"PL Morf[Gd(dbm)₄]"},{"x":576.8,"y":0.327,"s":"PL Morf[Gd(dbm)₄]"},{"x":580,"y":0.3,"s":"PL Morf[Gd(dbm)₄]"},{"x":583.5,"y":0.273,"s":"PL Morf[Gd(dbm)₄]"},{"x":587,"y":0.25,"s":"PL Morf[Gd(dbm)₄]"},{"x":590.3,"y":0.23,"s":"PL Morf[Gd(dbm)₄]"},{"x":596,"y":0.225,"s":"PL Morf[Gd(dbm)₄]"},{"x":605,"y":0.225,"s":"PL Morf[Gd(dbm)₄]"},{"x":611.8,"y":0.225,"s":"PL Morf[Gd(dbm)₄]"},{"x":617,"y":0.19,"s":"PL Morf[Gd(dbm)₄]"},{"x":622.6,"y":0.164,"s":"PL Morf[Gd(dbm)₄]"},{"x":627,"y":0.14,"s":"PL Morf[Gd(dbm)₄]"},{"x":632.1,"y":0.122,"s":"PL Morf[Gd(dbm)₄]"},{"x":640,"y":0.11,"s":"PL Morf[Gd(dbm)₄]"},{"x":652.3,"y":0.091,"s":"PL Morf[Gd(dbm)₄]"},{"x":665.8,"y":0.073,"s":"PL Morf[Gd(dbm)₄]"},{"x":675,"y":0.063,"s":"PL Morf[Gd(dbm)₄]"},{"x":683.3,"y":0.054,"s":"PL Morf[Gd(dbm)₄]"},{"x":692,"y":0.045,"s":"PL Morf[Gd(dbm)₄]"},{"x":700,"y":0.04,"s":"PL Morf[Gd(dbm)₄]"}
    ],
    "lab": [
      {"p":"a","x":408.5,"y":0.94,"t":"(a)"},
      {"p":"b","x":407.3,"y":0.93,"t":"(b)"},
      {"p":"c","x":408,"y":0.93,"t":"(c)"}
    ]
  },
  "spacing": 19,
  "bounds": "flush",
  "resolve": {"scale": {"color": "independent"}, "legend": {"color": "independent"}},
  "vconcat": [
    {
      "width": 742, "height": 164,
      "resolve": {"axis": {"x": "independent", "y": "independent"}},
      "layer": [
        {
          "data": {"name": "a"},
          "mark": {"type": "line", "strokeWidth": 2.2},
          "encoding": {
            "x": {"field": "x", "type": "quantitative", "scale": {"domain": [400, 700], "nice": false, "zero": false}, "axis": {"orient": "bottom", "values": [425,450,475,500,525,550,575,600,625,650,675], "tickSize": -6, "labels": false, "title": null}},
            "y": {"field": "y", "type": "quantitative", "scale": {"domain": [-0.1, 1.1], "nice": false, "zero": false}, "axis": {"orient": "left", "values": [0, 1], "format": "d", "tickSize": -10, "labelPadding": 23, "labelFontSize": 20, "title": null}},
            "color": {"field": "s", "type": "nominal", "scale": {"domain": ["EL Li[Eu(dbm)₄].4H₂O", "PL Li[Gd(dbm)₄].4H₂O"], "range": ["#000000", "#ff0000"]},
              "legend": {"orient": "none", "legendX": 509, "legendY": 9, "title": null, "symbolType": "stroke", "symbolSize": 1764, "symbolStrokeWidth": 2.5, "labelFontSize": 18, "labelOffset": 5, "clipHeight": 20, "rowPadding": 10}}
          }
        },
        {
          "data": {"name": "lab"},
          "transform": [{"filter": "datum.p == 'a'"}],
          "mark": {"type": "text", "align": "left", "baseline": "middle", "fontSize": 22, "font": "Liberation Sans"},
          "encoding": {
            "x": {"field": "x", "type": "quantitative", "axis": null},
            "y": {"field": "y", "type": "quantitative", "axis": {"orient": "left", "values": [0.5], "tickSize": -6, "labels": false, "title": null}},
            "text": {"field": "t"}
          }
        }
      ]
    },
    {
      "width": 742, "height": 164,
      "resolve": {"axis": {"x": "independent", "y": "independent"}},
      "layer": [
        {
          "data": {"name": "b"},
          "mark": {"type": "line", "strokeWidth": 2.2},
          "encoding": {
            "x": {"field": "x", "type": "quantitative", "scale": {"domain": [400, 700], "nice": false, "zero": false}, "axis": {"orient": "bottom", "values": [450,500,550,600,650], "tickSize": -6, "labels": false, "title": null}},
            "y": {"field": "y", "type": "quantitative", "scale": {"domain": [-0.1, 1.1], "nice": false, "zero": false}, "axis": {"orient": "left", "values": [0, 1], "format": "d", "tickSize": -10, "labelPadding": 23, "labelFontSize": 20, "title": "Intensidade normalizada", "titleFontSize": 26, "titlePadding": 16, "titleY": 90}},
            "color": {"field": "s", "type": "nominal", "scale": {"domain": ["EL TMPip[Eu(dbm)₄]", "PL TMPip[Gd(dbm)₄]"], "range": ["#000000", "#ff0000"]},
              "legend": {"orient": "none", "legendX": 519, "legendY": 11, "title": null, "symbolType": "stroke", "symbolSize": 1764, "symbolStrokeWidth": 2.5, "labelFontSize": 18, "labelOffset": 5, "clipHeight": 20, "rowPadding": 10}}
          }
        },
        {
          "data": {"name": "lab"},
          "transform": [{"filter": "datum.p == 'b'"}],
          "mark": {"type": "text", "align": "left", "baseline": "middle", "fontSize": 22, "font": "Liberation Sans"},
          "encoding": {
            "x": {"field": "x", "type": "quantitative", "axis": null},
            "y": {"field": "y", "type": "quantitative", "axis": {"orient": "left", "values": [0.5], "tickSize": -6, "labels": false, "title": null}},
            "text": {"field": "t"}
          }
        }
      ]
    },
    {
      "width": 742, "height": 164,
      "resolve": {"axis": {"x": "independent", "y": "independent"}},
      "layer": [
        {
          "data": {"name": "c"},
          "mark": {"type": "line", "strokeWidth": 2.2},
          "encoding": {
            "x": {"field": "x", "type": "quantitative", "scale": {"domain": [400, 700], "nice": false, "zero": false}, "axis": {"orient": "bottom", "values": [400,450,500,550,600,650,700], "format": "d", "tickSize": -10, "labelPadding": 22, "labelFontSize": 20, "title": "Comprimento de onda (nm)", "titleFontSize": 25, "titlePadding": 12}},
            "y": {"field": "y", "type": "quantitative", "scale": {"domain": [-0.1, 1.1], "nice": false, "zero": false}, "axis": {"orient": "left", "values": [0, 1], "format": "d", "tickSize": -10, "labelPadding": 23, "labelFontSize": 20, "title": null}},
            "color": {"field": "s", "type": "nominal", "scale": {"domain": ["EL Morf[Eu(dbm)₄]", "PL Morf[Gd(dbm)₄]"], "range": ["#000000", "#ff0000"]},
              "legend": {"orient": "none", "legendX": 531, "legendY": 8, "title": null, "symbolType": "stroke", "symbolSize": 1764, "symbolStrokeWidth": 2.5, "labelFontSize": 18, "labelOffset": 5, "clipHeight": 20, "rowPadding": 10}}
          }
        },
        {
          "data": {"name": "lab"},
          "transform": [{"filter": "datum.p == 'c'"}],
          "mark": {"type": "text", "align": "left", "baseline": "middle", "fontSize": 22, "font": "Liberation Sans"},
          "encoding": {
            "x": {"field": "x", "type": "quantitative", "axis": {"orient": "bottom", "values": [425,475,525,575,625,675], "tickSize": -6, "labels": false, "title": null}},
            "y": {"field": "y", "type": "quantitative", "axis": {"orient": "left", "values": [0.5], "tickSize": -6, "labels": false, "title": null}},
            "text": {"field": "t"}
          }
        }
      ]
    }
  ]
}
